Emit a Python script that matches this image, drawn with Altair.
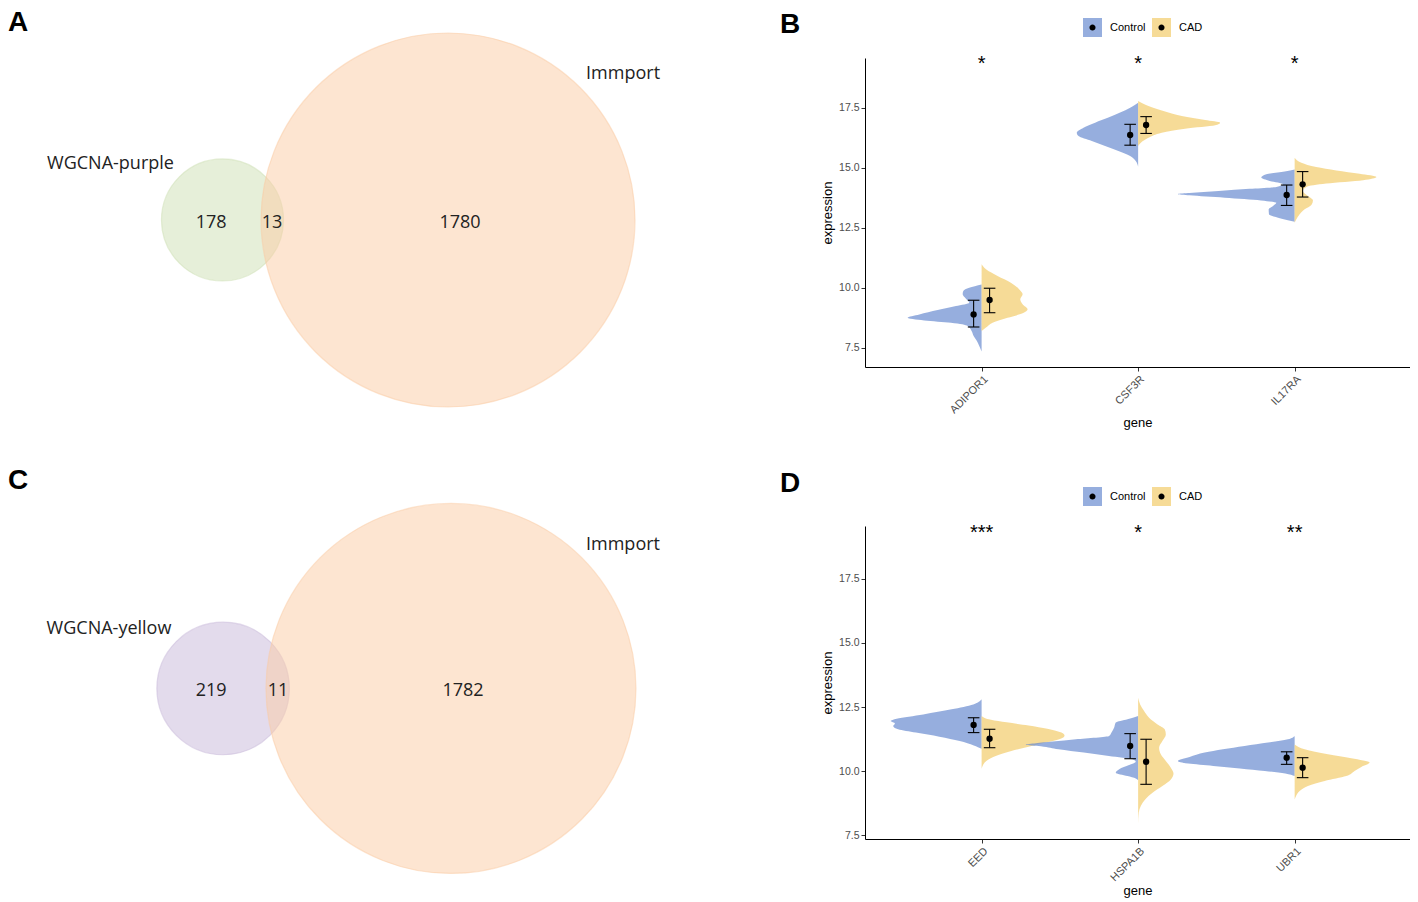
import math
import altair as alt
import pandas as pd

# ================= Venn panels (A, C) =================
venn_a_names = ["WGCNA-purple", "Immport"]
venn_a_counts = [178, 13, 1780]          # left only, overlap, right only
venn_c_names = ["WGCNA-yellow", "Immport"]
venn_c_counts = [219, 11, 1782]

# layout in units of the larger circle's radius
venn_a_centers_x = [-1.206, 0.0]
venn_a_count_x = [-1.267, -0.941, 0.064]
venn_a_label_x = [-1.805, 0.936]
venn_a_label_y = [0.297, 0.783]
venn_c_centers_x = [-1.232, 0.0]
venn_c_count_x = [-1.297, -0.935, 0.065]
venn_c_label_x = [-1.849, 0.930]
venn_c_label_y = [0.319, 0.778]

venn_a_colors = ["#cde0b4", "#fbcba4"]
venn_c_colors = ["#c8b8da", "#fbcba4"]

# ================= Violin panels (B, D) =================
groups = ["Control", "CAD"]
group_colors = ["#6a8bd0", "#f2cc6b"]
y_ticks = [7.5, 10.0, 12.5, 15.0, 17.5]

genes_b = ["ADIPOR1", "CSF3R", "IL17RA"]
stars_b = ["*", "*", "*"]
genes_d = ["EED", "HSPA1B", "UBR1"]
stars_d = ["***", "*", "**"]

# violin outlines: [expression, half width (in gene spacing units)]
adipor1_ctrl = [[10.15, 0], [10.01, 0.079], [9.875, 0.117], [9.74, 0.121], [9.555, 0.100], [9.39, 0.079],
                [9.25, 0.164], [9.08, 0.281], [8.90, 0.398], [8.76, 0.473], [8.65, 0.366], [8.555, 0.196],
                [8.42, 0.089], [8.21, 0.064], [8.0, 0.051], [7.79, 0.030], [7.58, 0.015], [7.35, 0]]
adipor1_cad = [[10.99, 0], [10.78, 0.028], [10.5, 0.102], [10.22, 0.187], [9.94, 0.241], [9.74, 0.262],
               [9.53, 0.247], [9.32, 0.262], [9.11, 0.294], [8.945, 0.262], [8.76, 0.166], [8.555, 0.070],
               [8.35, 0.028], [8.21, 0]]
csf3r_ctrl = [[17.72, 0], [17.51, 0.051], [17.31, 0.115], [17.10, 0.190], [16.89, 0.275], [16.68, 0.349],
              [16.47, 0.392], [16.33, 0.381], [16.125, 0.296], [15.92, 0.211], [15.71, 0.126], [15.5, 0.051],
              [15.29, 0.015], [15.05, 0]]
csf3r_cad = [[17.79, 0], [17.58, 0.066], [17.375, 0.162], [17.17, 0.279], [17.0, 0.428], [16.89, 0.524],
             [16.78, 0.492], [16.64, 0.300], [16.47, 0.151], [16.26, 0.066], [16.06, 0.019], [15.92, 0]]
il17ra_ctrl = [[14.94, 0], [14.85, 0.064], [14.74, 0.181], [14.60, 0.213], [14.46, 0.160], [14.32, 0.075],
               [14.21, 0.117], [14.13, 0.288], [14.04, 0.486], [13.96, 0.671], [13.92, 0.745], [13.86, 0.671],
               [13.76, 0.447], [13.65, 0.215], [13.55, 0.117], [13.42, 0.138], [13.28, 0.166], [13.07, 0.164],
               [12.93, 0.106], [12.76, 0]]
il17ra_cad = [[15.43, 0], [15.22, 0.043], [15.04, 0.138], [14.90, 0.266], [14.76, 0.415], [14.625, 0.522],
              [14.49, 0.437], [14.35, 0.202], [14.21, 0.075], [14.04, 0.053], [13.83, 0.085], [13.65, 0.117],
              [13.46, 0.107], [13.28, 0.064], [13.07, 0.032], [12.86, 0.011], [12.72, 0]]

eed_ctrl = [[12.80, 0], [12.60, 0.053], [12.41, 0.192], [12.21, 0.373], [12.04, 0.543], [11.95, 0.581],
            [11.86, 0.554], [11.76, 0.565], [11.63, 0.533], [11.50, 0.42], [11.34, 0.27], [11.17, 0.14],
            [11.0, 0.05], [10.87, 0]]
eed_cad = [[12.15, 0], [12.0, 0.06], [11.9, 0.16], [11.78, 0.30], [11.65, 0.42], [11.5, 0.51], [11.38, 0.53],
           [11.25, 0.50], [11.1, 0.40], [10.95, 0.30], [10.78, 0.19], [10.59, 0.09], [10.39, 0.03],
           [10.2, 0.006], [10.09, 0]]
hspa1b_ctrl = [[12.15, 0], [12.02, 0.068], [11.89, 0.143], [11.70, 0.153], [11.50, 0.170], [11.37, 0.185],
               [11.24, 0.398], [11.15, 0.547], [11.085, 0.654], [11.03, 0.718], [10.97, 0.622], [10.85, 0.509],
               [10.72, 0.347], [10.59, 0.187], [10.46, 0.036], [10.36, 0.015], [10.23, 0.058], [10.07, 0.121],
               [9.93, 0.143], [9.80, 0.068], [9.71, 0.015], [9.64, 0]]
hspa1b_cad = [[12.86, 0], [12.60, 0.013], [12.34, 0.038], [12.08, 0.070], [11.82, 0.124], [11.63, 0.170],
              [11.43, 0.177], [11.17, 0.155], [10.91, 0.134], [10.65, 0.145], [10.39, 0.177], [10.13, 0.209],
              [9.90, 0.226], [9.67, 0.209], [9.41, 0.155], [9.15, 0.092], [8.89, 0.045], [8.63, 0.017],
              [8.37, 0.004], [7.95, 0]]
ubr1_ctrl = [[11.37, 0], [11.24, 0.043], [11.11, 0.170], [10.98, 0.320], [10.85, 0.458], [10.72, 0.575],
             [10.55, 0.671], [10.39, 0.746], [10.29, 0.68], [10.20, 0.52], [10.10, 0.35], [10.0, 0.19],
             [9.90, 0.06], [9.80, 0]]
ubr1_cad = [[11.04, 0], [10.85, 0.064], [10.65, 0.213], [10.50, 0.362], [10.33, 0.479], [10.16, 0.426],
            [10.0, 0.383], [9.80, 0.330], [9.61, 0.192], [9.41, 0.085], [9.22, 0.032], [9.02, 0.009], [8.89, 0]]

# mean and mean +/- sd
mean_ctrl_b = [8.90, 16.375, 13.875]
lo_ctrl_b = [8.375, 15.95, 13.44]
hi_ctrl_b = [9.49, 16.82, 14.29]
mean_cad_b = [9.50, 16.79, 14.32]
lo_cad_b = [8.97, 16.44, 13.79]
hi_cad_b = [9.99, 17.14, 14.85]

mean_ctrl_d = [11.80, 10.98, 10.52]
lo_ctrl_d = [11.50, 10.48, 10.26]
hi_ctrl_d = [12.08, 11.46, 10.75]
mean_cad_d = [11.26, 10.36, 10.13]
lo_cad_d = [10.91, 9.48, 9.74]
hi_cad_d = [11.63, 11.24, 10.52]

shapes_b = {"ADIPOR1": {"Control": adipor1_ctrl, "CAD": adipor1_cad},
            "CSF3R": {"Control": csf3r_ctrl, "CAD": csf3r_cad},
            "IL17RA": {"Control": il17ra_ctrl, "CAD": il17ra_cad}}
shapes_d = {"EED": {"Control": eed_ctrl, "CAD": eed_cad},
            "HSPA1B": {"Control": hspa1b_ctrl, "CAD": hspa1b_cad},
            "UBR1": {"Control": ubr1_ctrl, "CAD": ubr1_cad}}
stats_b = {"Control": (mean_ctrl_b, lo_ctrl_b, hi_ctrl_b), "CAD": (mean_cad_b, lo_cad_b, hi_cad_b)}
stats_d = {"Control": (mean_ctrl_d, lo_ctrl_d, hi_ctrl_d), "CAD": (mean_cad_d, lo_cad_d, hi_cad_d)}

SANS = "Liberation Sans"
VENN_FONT = "Open Sans"
DOT_PATH = "M-0.32,0A0.32,0.32,0,1,0,0.32,0A0.32,0.32,0,1,0,-0.32,0ZM-1,-1L-1,-1ZM1,1L1,1Z"


def panel_title(letter, dx, dy):
    return alt.TitleParams(text=letter, anchor="start", frame="group", fontSize=28, fontWeight="bold",
                           font=SANS, color="black", baseline="alphabetic", offset=0, dx=dx, dy=dy)


def venn_panel(letter, names, counts, centers_x, count_x, label_x, label_y, colors,
               xdom, ydom, r_px, width, height, title_dy):
    set_sizes = [counts[0] + counts[1], counts[2] + counts[1]]
    circles = pd.DataFrame({"set": names, "n": set_sizes, "cx": centers_x, "cy": [0.0, 0.0]})
    regions = pd.DataFrame({"label": [str(c) for c in counts], "x": count_x, "y": [0.0, 0.0, 0.0]})
    setlab = pd.DataFrame({"label": names, "x": label_x, "y": label_y})
    xs = alt.Scale(domain=xdom, nice=False, zero=False)
    ys = alt.Scale(domain=ydom, nice=False, zero=False)
    cs = alt.Scale(domain=names, range=colors)
    # symbol size = (diameter)^2, area of the circle stays proportional to the set size
    circ = alt.Chart(circles).mark_circle(opacity=1, fillOpacity=0.5, strokeOpacity=0.5, strokeWidth=1.2).encode(
        x=alt.X("cx:Q", scale=xs, axis=None),
        y=alt.Y("cy:Q", scale=ys, axis=None),
        size=alt.Size("n:Q", scale=alt.Scale(domain=[0, max(set_sizes)], range=[0, 4 * r_px ** 2]),
                      legend=None),
        color=alt.Color("set:N", scale=cs, legend=None),
        stroke=alt.Stroke("set:N", scale=cs, legend=None),
        order=alt.Order("n:Q", sort="ascending"),
    )
    nums = alt.Chart(regions).mark_text(font=VENN_FONT, fontSize=18, color="#222222", dy=3).encode(
        x=alt.X("x:Q", scale=xs, axis=None), y=alt.Y("y:Q", scale=ys, axis=None), text="label:N")
    labs = alt.Chart(setlab).mark_text(font=VENN_FONT, fontSize=18, color="#222222").encode(
        x=alt.X("x:Q", scale=xs, axis=None), y=alt.Y("y:Q", scale=ys, axis=None), text="label:N")
    return alt.layer(circ, nums, labs).properties(width=width, height=height,
                                                   title=panel_title(letter, 0, title_dy))


def violin_panel(letter, genes, shapes, stats, stars, ydom, height, legend_y, title_dy):
    rows = []
    for gi, g in enumerate(genes):
        for grp in groups:
            for e, w in shapes[g][grp]:
                rows.append({"gene": g, "gidx": gi, "group": grp, "expr": e, "w": w})
    shape_df = pd.DataFrame(rows)
    srows = []
    for gi, g in enumerate(genes):
        for grp in groups:
            m, lo, hi = stats[grp]
            srows.append({"gene": g, "gidx": gi, "group": grp, "gkey": "k" + grp,
                          "mean": m[gi], "lo": lo[gi], "hi": hi[gi]})
    stats_df = pd.DataFrame(srows)
    star_y = ydom[1] - 0.5
    star_df = pd.DataFrame({"gidx": list(range(len(genes))), "stars": stars, "sy": [star_y] * len(genes)})

    xs = alt.Scale(domain=[-0.745, 2.737], nice=False, zero=False)
    ys = alt.Scale(domain=ydom, nice=False, zero=False)
    label_expr = "[" + ",".join("'%s'" % g for g in genes) + "][datum.value]"
    xaxis = alt.Axis(values=list(range(len(genes))), labelExpr=label_expr, labelAngle=-45, labelAlign="right",
                     labelBaseline="top", grid=False, domainColor="black", domainWidth=1, tickColor="#333333",
                     tickSize=4, tickWidth=1, labelColor="#4d4d4d", labelFontSize=11, labelFont=SANS,
                     labelPadding=2, titleFont=SANS, titleFontSize=13, titleFontWeight="normal",
                     titleColor="black", titlePadding=2)
    yaxis = alt.Axis(values=y_ticks, format=".1f", grid=False, domainColor="black", domainWidth=1,
                     tickColor="#333333", tickSize=4, tickWidth=1, labelColor="#4d4d4d", labelFontSize=10.5,
                     labelFont=SANS, labelPadding=2, titleFont=SANS, titleFontSize=13, titleFontWeight="normal",
                     titleColor="black", titlePadding=4)
    color_legend = alt.Legend(orient="none", legendX=218, legendY=legend_y, direction="horizontal", title=None,
                              symbolType="square", symbolSize=361, symbolStrokeWidth=0, labelFontSize=11,
                              labelFont=SANS, labelColor="black", labelOffset=8, columnPadding=6, padding=0,
                              zindex=1)
    dot_legend = alt.Legend(orient="none", legendX=218, legendY=legend_y, direction="horizontal", title=None,
                            symbolType=DOT_PATH, symbolSize=361, symbolStrokeWidth=0, symbolFillColor="black",
                            symbolOpacity=1, labelFontSize=11, labelFont=SANS, labelOpacity=0, labelOffset=8,
                            labelExpr="slice(datum.label, 1)", columnPadding=6, padding=0, zindex=2)

    area = alt.Chart(shape_df).transform_calculate(
        xa="datum.group === 'Control' ? datum.gidx - datum.w : datum.gidx",
        xb="datum.group === 'Control' ? datum.gidx : datum.gidx + datum.w",
    ).mark_area(orient="horizontal", opacity=0.7, interpolate="monotone").encode(
        y=alt.Y("expr:Q", scale=ys, axis=yaxis, title="expression"),
        x=alt.X("xa:Q", scale=xs, axis=xaxis, title="gene"),
        x2=alt.X2("xb"),
        color=alt.Color("group:N", scale=alt.Scale(domain=groups, range=group_colors), legend=color_legend),
        detail="gene:N",
    )
    dodge = 0.051
    cap = 0.037
    base = alt.Chart(stats_df).transform_calculate(
        xp="datum.gidx + (datum.group === 'Control' ? -%f : %f)" % (dodge, dodge)
    ).transform_calculate(
        cl="datum.xp - %f" % cap, cr="datum.xp + %f" % cap
    )
    vrule = base.mark_rule(color="black", strokeWidth=1.1).encode(
        x=alt.X("xp:Q", scale=xs, title="gene"), y=alt.Y("lo:Q", scale=ys, title="expression"), y2="hi:Q")
    caps = base.transform_fold(["lo", "hi"], as_=["end", "yv"]).mark_rule(color="black", strokeWidth=1.1).encode(
        x=alt.X("cl:Q", scale=xs, title="gene"), x2="cr:Q", y=alt.Y("yv:Q", scale=ys, title="expression"))
    pts = base.mark_point(filled=True, size=40, opacity=1, strokeWidth=0).encode(
        x=alt.X("xp:Q", scale=xs, title="gene"), y=alt.Y("mean:Q", scale=ys, title="expression"),
        fill=alt.Fill("gkey:N", scale=alt.Scale(domain=["k" + g for g in groups], range=["black", "black"]),
                      legend=dot_legend))
    st = alt.Chart(star_df).mark_text(fontSize=20, font=SANS, color="black", baseline="alphabetic").encode(
        x=alt.X("gidx:Q", scale=xs, title="gene"), y=alt.Y("sy:Q", scale=ys, title="expression"),
        text="stars:N")
    return alt.layer(area, vrule, caps, pts, st).properties(
        width=545, height=height, title=panel_title(letter, -85, title_dy))


venn_a = venn_panel("A", venn_a_names, venn_a_counts, venn_a_centers_x, venn_a_count_x, venn_a_label_x,
                    venn_a_label_y, venn_a_colors, [-2.353, 1.711], [-0.786, 0.866], 187, 760, 309, 28)
venn_c = venn_panel("C", venn_c_names, venn_c_counts, venn_c_centers_x, venn_c_count_x, venn_c_label_x,
                    venn_c_label_y, venn_c_colors, [-2.395, 1.714], [-0.8135, 0.878], 185, 760, 313, 16)
vio_b = violin_panel("B", genes_b, shapes_b, stats_b, stars_b, [6.708, 19.583], 309, -40, 43)
vio_d = violin_panel("D", genes_d, shapes_d, stats_d, stars_d, [7.344, 19.57], 313, -39, 32.5)

chart = alt.concat(venn_a, vio_b, venn_c, vio_d, columns=2, spacing={"row": 159, "column": 97},
                   bounds="flush").resolve_scale(
    x="independent", y="independent", color="independent", fill="independent",
    stroke="independent", size="independent").resolve_legend(
    color="independent", fill="independent").properties(padding=0).configure_view(
    strokeWidth=0, stroke="transparent")

chart.save("out.html", embed_options={"renderer": "svg", "actions": False})
